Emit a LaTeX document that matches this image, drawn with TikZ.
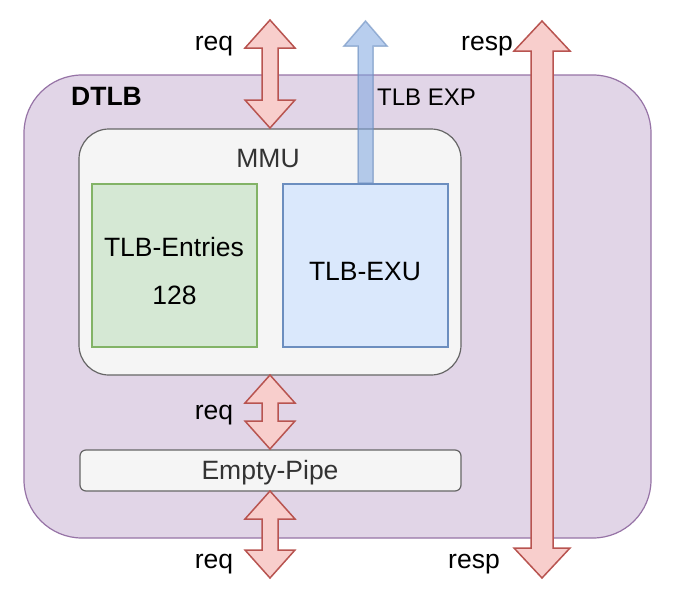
\documentclass[tikz,border=0pt]{standalone}
\usepackage{fontspec}
\setmainfont{Liberation Sans}
\definecolor{dtlbfill}{HTML}{E1D5E7}
\definecolor{dtlbline}{HTML}{9673A6}
\definecolor{grayfill}{HTML}{F5F5F5}
\definecolor{grayline}{HTML}{666666}
\definecolor{grayfont}{HTML}{333333}
\definecolor{greenfill}{HTML}{D5E8D4}
\definecolor{greenline}{HTML}{82B366}
\definecolor{bluefill}{HTML}{DAE8FC}
\definecolor{blueline}{HTML}{6C8EBF}
\definecolor{bluearrow}{HTML}{7EA6E0}
\definecolor{redfill}{HTML}{F8CECC}
\definecolor{redline}{HTML}{B85450}
\tikzset{
  lbl/.style={inner sep=0pt, anchor=base, font=\fontsize{26.5}{30}\selectfont},
  redarrow/.style={fill=redfill, draw=redline, line width=1.5pt, line join=miter},
  bluearr/.style={fill=bluearrow, fill opacity=0.55, draw=blueline, draw opacity=0.6, line width=1.5pt},
}
% x, ytop, ybot, shaft half, head half, head length
\newcommand\vdarrow[6]{%
  \draw[redarrow] (#1,#2) -- (#1+#5,#2+#6) -- (#1+#4,#2+#6) -- (#1+#4,#3-#6) -- (#1+#5,#3-#6) -- (#1,#3)
    -- (#1-#5,#3-#6) -- (#1-#4,#3-#6) -- (#1-#4,#2+#6) -- (#1-#5,#2+#6) -- cycle;}
\begin{document}
\begin{tikzpicture}[x=1pt,y=-1pt]
\useasboundingbox (0,0) rectangle (674,608);
% containers
\draw[fill=dtlbfill, draw=dtlbline, line width=1.2pt, rounded corners=58pt] (24,75) rectangle (651,538);
\node[lbl, font=\fontsize{26.5}{30}\selectfont\bfseries] (dtlb) at (106.5,105) {DTLB};
\draw[fill=grayfill, draw=grayline, line width=1.2pt, rounded corners=30pt] (79,129) rectangle (461,375);
\node[lbl, text=grayfont] (mmu) at (268,167.5) {MMU};
\draw[fill=greenfill, draw=greenline, line width=1.2pt] (92,184) rectangle (257,347);
\node[lbl] (entries) at (174,256) {TLB-Entries};
\node[lbl] (entnum) at (174.5,304) {128};
\draw[fill=bluefill, draw=blueline, line width=1.2pt] (283,184) rectangle (448,347);
\node[lbl] (exu) at (365,280) {TLB-EXU};
\draw[fill=grayfill, draw=grayline, line width=1.2pt, rounded corners=6pt] (80,450) rectangle (461,491);
\node[lbl, text=grayfont] (pipe) at (270,479) {Empty-Pipe};
% arrows
\vdarrow{270}{20}{128}{8}{25}{28}
\vdarrow{270}{375}{449}{8}{25}{28}
\vdarrow{270}{491}{578}{8}{25}{28}
\vdarrow{542}{21}{578}{11}{28}{30}
\draw[bluearr] (365.5,21) -- (387,46) -- (373,46) -- (373,183) -- (358,183) -- (358,46) -- (344,46) -- cycle;
% labels
\node[lbl] (reqtop) at (214,50) {req};
\node[lbl] (resptop) at (487,50.5) {resp};
\node[lbl, font=\fontsize{24}{28}\selectfont] (tlbexp) at (426.5,105) {TLB EXP};
\node[lbl] (reqmid) at (214,419) {req};
\node[lbl] (reqbot) at (214,568) {req};
\node[lbl] (respbot) at (474,568) {resp};
\end{tikzpicture}
\end{document}
